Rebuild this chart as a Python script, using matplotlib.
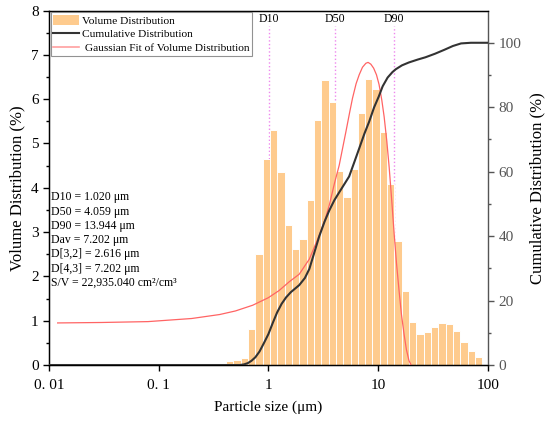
import numpy as np
import matplotlib
matplotlib.use('Agg')
import matplotlib.pyplot as plt
from matplotlib.patches import Patch
from matplotlib.lines import Line2D

plt.rcParams['font.family'] = ['Liberation Serif', 'DejaVu Serif']
plt.rcParams['mathtext.fontset'] = 'stix'

# 粒径分布 (bin centres, µm) 与体积分数 (%)
sizes = [0.446, 0.519, 0.606, 0.706, 0.823, 0.959, 1.119, 1.304, 1.520, 1.773,
         2.067, 2.410, 2.809, 3.275, 3.819, 4.452, 5.191, 6.052, 7.056, 8.226,
         9.591, 11.18, 13.04, 15.20, 17.72, 20.66, 24.09, 28.09, 32.75, 38.18,
         44.51, 51.90, 60.51, 70.55, 82.25]
volume = [0.08, 0.11, 0.15, 0.82, 2.51, 4.66, 5.30, 4.36, 3.15, 2.62,
          2.84, 3.73, 5.52, 6.43, 5.93, 4.38, 3.79, 4.43, 5.69, 6.46,
          6.22, 5.27, 4.09, 2.81, 1.67, 0.96, 0.71, 0.74, 0.85, 0.94,
          0.93, 0.77, 0.53, 0.32, 0.19]

# 累积分布 (%)
cum_size = [0.010, 0.55, 0.60, 0.65, 0.70, 0.76, 0.83, 0.91, 1.00, 1.10,
            1.20, 1.32, 1.45, 1.60, 1.91, 2.15, 2.36, 2.60, 2.91, 3.25,
            3.59, 4.00, 4.42, 5.00, 5.44, 6.00, 6.72, 7.50, 8.28, 9.20,
            10.1, 11.0, 12.2, 13.5, 14.5, 16.5, 19.1, 23.0, 27.0, 33.0,
            40.0, 48.0, 57.0, 70.0, 100.0]
cum_val = [0.0, 0.0, 0.2, 0.6, 1.3, 2.4, 4.2, 6.8, 9.6, 13.2,
           16.3, 19.0, 21.0, 22.6, 24.8, 27.0, 29.8, 34.5, 40.0, 44.5,
           48.0, 51.2, 53.6, 56.5, 58.5, 62.5, 67.2, 71.8, 75.5, 80.0,
           83.2, 86.5, 89.2, 90.9, 91.8, 93.0, 93.9, 94.8, 95.5, 96.6,
           97.8, 99.0, 99.8, 100.0, 100.0]

# 高斯拟合曲线
fit_size = [0.012, 0.03, 0.08, 0.2, 0.36, 0.5, 0.72, 1.0, 1.25, 1.55,
            1.91, 2.36, 2.91, 3.3, 3.59, 4.0, 4.42, 5.09, 5.5, 5.84,
            6.3, 6.72, 7.2, 7.73, 8.1, 8.58, 9.1, 9.66, 10.2, 10.8,
            11.35, 12.0, 12.6, 13.3, 14.0, 14.7, 15.5, 16.3, 17.2, 18.1,
            19.1, 20.0]
fit_val = [0.95, 0.96, 0.98, 1.05, 1.14, 1.22, 1.35, 1.52, 1.68, 1.88,
           2.05, 2.39, 2.93, 3.30, 3.61, 4.10, 4.51, 5.27, 5.70, 6.02,
           6.35, 6.55, 6.72, 6.81, 6.83, 6.79, 6.70, 6.55, 6.33, 5.98,
           5.60, 5.05, 4.47, 3.72, 2.96, 2.30, 1.69, 1.15, 0.71, 0.35,
           0.10, 0.0]

d_names = ['D10', 'D50', 'D90']
d_values = [1.020, 4.059, 13.944]

stats_text = ('D10 = 1.020 μm\nD50 = 4.059 μm\nD90 = 13.944 μm\nDav = 7.202 μm\n'
              'D[3,2] = 2.616 μm\nD[4,3] = 7.202 μm\nS/V = 22,935.040 cm²/cm³')

bar_color = '#FECB8E'
fit_color = '#FF6464'
cum_color = '#333333'
gray = '#555555'

fig = plt.figure(figsize=(5.5, 4.22), dpi=100)
ax = fig.add_axes([0.089, 0.135, 0.798, 0.840])
ax2 = ax.twinx()

# bars, equal width on log axis
s = np.array(sizes)
half = 10 ** (1 / 30)
ax.bar(s / half, volume, width=s * half - s / half, align='edge',
       color=bar_color, edgecolor='white', linewidth=0.7, zorder=2)

for name, d in zip(d_names, d_values):
    ax.plot([d, d], [0, 7.65], color='#EE88EE', linestyle=':', linewidth=1.0, zorder=1)
    ax.text(d, 7.8, name, ha='center', va='center', fontsize=8.5)

ax.plot(fit_size, fit_val, color=fit_color, linewidth=0.9, zorder=3)
ax2.plot(cum_size, cum_val, color=cum_color, linewidth=1.5, zorder=3)

ax.set_xscale('log')
ax.set_xlim(0.01, 100)
ax.set_ylim(0, 8)
ax2.set_ylim(0, 110)
ax.set_xticks([0.01, 0.1, 1, 10, 100], labels=['0. 01', '0. 1', '1', '10', '100'])
ax.xaxis.set_minor_locator(matplotlib.ticker.NullLocator())
ax.set_yticks(range(0, 9))
ax.set_yticks(np.arange(0.5, 8, 1.0), minor=True)
ax2.set_yticks(range(0, 101, 20))
ax2.set_yticks(range(10, 101, 20), minor=True)

ax.tick_params(axis='both', which='major', direction='out', length=4, width=1, labelsize=11)
ax.tick_params(axis='x', which='major', pad=6)
ax.tick_params(axis='y', which='minor', direction='out', length=2.5, width=1)
ax2.tick_params(axis='y', which='major', direction='out', length=4, width=1,
                labelsize=11, colors=gray, labelcolor=gray)
ax2.tick_params(axis='y', which='minor', direction='out', length=2.5, width=1, colors=gray)

for sp in ['left', 'bottom', 'top']:
    ax.spines[sp].set_linewidth(1.0)
ax2.spines['right'].set_color(gray)
ax2.spines['right'].set_linewidth(1.0)
ax.spines['right'].set_visible(False)

ax.set_xlabel('Particle size (μm)', fontsize=11, labelpad=6)
ax.set_ylabel('Volume Distribution (%)', fontsize=12, labelpad=4)
ax2.set_ylabel('Cumulative Distribution (%)', fontsize=12, labelpad=6)

ax.text(0.004, 0.49, stats_text, transform=ax.transAxes, ha='left', va='top',
        fontsize=8.5, linespacing=1.25)

handles = [Patch(facecolor=bar_color, edgecolor='none'),
           Line2D([], [], color=cum_color, linewidth=1.5),
           Line2D([], [], color='#FFA0A0', linewidth=1.2)]
labels = ['Volume Distribution', 'Cumulative Distribution', ' Gaussian Fit of Volume Distribution']
leg = ax2.legend(handles, labels, loc='upper left', bbox_to_anchor=(0.0, 1.0),
                 fontsize=8.2, frameon=True, fancybox=False, borderaxespad=0.15,
                 handlelength=2.3, handleheight=1.0, handletextpad=0.25,
                 labelspacing=0.25, borderpad=0.2, edgecolor='#777777')
leg.get_frame().set_linewidth(0.8)

fig.savefig('out.png', dpi=100)
